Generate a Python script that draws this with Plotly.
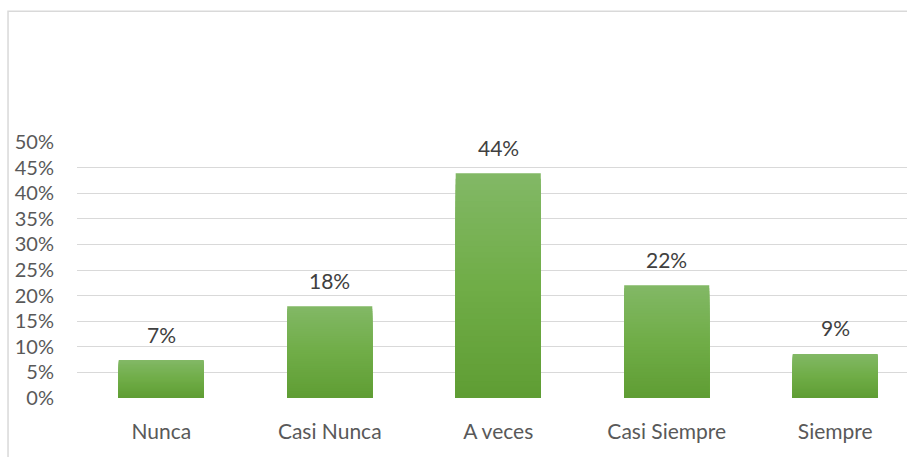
import plotly.graph_objects as go

categories = ["Nunca", "Casi Nunca", "A veces", "Casi Siempre", "Siempre"]
values = [0.074, 0.179, 0.439, 0.220, 0.086]
tick_vals = [0, 0.05, 0.10, 0.15, 0.20, 0.25, 0.30, 0.35, 0.40, 0.45, 0.50]
tick_text = ["0%", "5%", "10%", "15%", "20%", "25%", "30%", "35%", "40%", "45%", "50%"]

FONT = "Lato, 'Open Sans', sans-serif"
GRAY = "#595959"

def hex2rgb(h):
    h = h.lstrip("#")
    return tuple(int(h[i:i + 2], 16) for i in (0, 2, 4))

def lerp(c1, c2, t):
    a, b = hex2rgb(c1), hex2rgb(c2)
    return "rgb(%d,%d,%d)" % tuple(round(a[i] + (b[i] - a[i]) * t) for i in range(3))

bottom_c, mid_c, top_c = "#5F9D34", "#70AD47", "#82B866"

def grad(t):
    if t < 0.5:
        return lerp(bottom_c, mid_c, t / 0.5)
    return lerp(mid_c, top_c, (t - 0.5) / 0.5)

fig = go.Figure()
N = 40
# draw tallest (lightest) first; each shorter, darker layer covers the lower part
for k in range(N):
    frac = (N - k) / N
    fig.add_trace(go.Bar(
        x=categories,
        y=[v * frac for v in values],
        width=0.505,
        marker=dict(color=grad((N - k - 0.5) / N), line=dict(width=0)),
        hoverinfo="skip",
        showlegend=False,
    ))

for c, v in zip(categories, values):
    fig.add_annotation(
        x=c, y=v, text=f"{round(v * 100)}%", showarrow=False,
        yshift=26, font=dict(family=FONT, size=21, color="#404040"),
    )

# outer chart border
fig.add_shape(type="rect", xref="paper", yref="paper",
              x0=-0.0831, x1=1.2, y0=-0.4, y1=1.5105,
              line=dict(color="#d9d9d9", width=1.5), layer="below")

fig.update_layout(
    width=907, height=457,
    margin=dict(l=77, r=0, t=142, b=59),
    barmode="overlay",
    plot_bgcolor="white", paper_bgcolor="white",
    font=dict(family=FONT, size=20, color=GRAY),
    xaxis=dict(
        type="category", range=[-0.5, 4.426],
        showgrid=False, zeroline=False, showline=False,
        ticks="", tickfont=dict(family=FONT, size=21, color=GRAY),
        ticklabelstandoff=19,
    ),
    yaxis=dict(
        range=[0, 0.5], tickvals=tick_vals, ticktext=tick_text,
        showgrid=True, gridcolor="#d9d9d9", gridwidth=1.3,
        zeroline=False, showline=False, ticks="",
        tickfont=dict(family=FONT, size=20, color=GRAY),
        ticklabelstandoff=22,
    ),
)

fig.write_html("out.html")
